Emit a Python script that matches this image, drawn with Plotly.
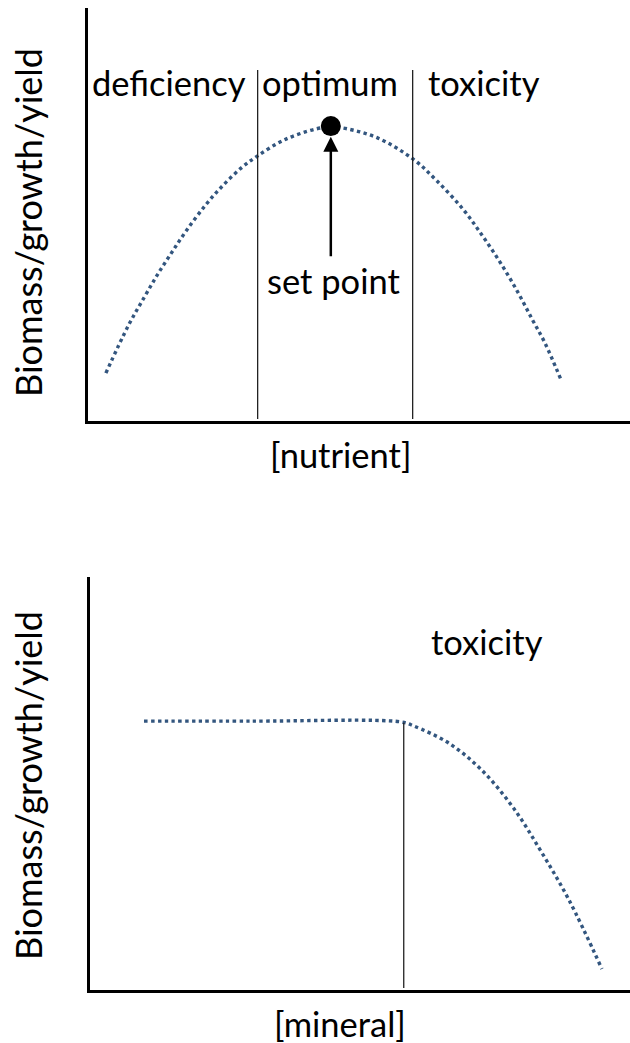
import plotly.graph_objects as go

# ---------- data (arbitrary units) ----------
nutrient_x = [0.33, 0.74, 1.04, 1.28, 1.54, 1.81, 2.17, 2.48, 2.83, 3.13, 3.61, 4.20,
              4.50, 4.80, 5.35, 6.00, 6.44, 6.93, 7.28, 7.61, 7.93, 8.20, 8.43, 8.72]
nutrient_y = [1.16, 2.30, 3.00, 3.54, 4.07, 4.60, 5.23, 5.69, 6.13, 6.42, 6.80, 7.07,
              7.12, 7.07, 6.85, 6.34, 5.81, 5.11, 4.48, 3.83, 3.12, 2.45, 1.89, 1.02]
zone_bounds = [3.13, 5.99]          # deficiency | optimum | toxicity
zone_top = 8.5
set_point = (4.48, 7.14)
zone_labels = ["deficiency", "optimum", "toxicity"]
zone_label_x = [1.50, 4.47, 7.30]

mineral_x = [1.00, 3.00, 5.76, 6.00, 6.64, 7.25, 7.84, 8.36, 8.87, 9.48]
mineral_y = [6.51, 6.51, 6.49, 6.39, 5.98, 5.33, 4.41, 3.34, 2.18, 0.51]
mineral_bound = 5.81
mineral_bound_top = 6.47

y_title = "Biomass/growth/yield"
x_titles = ["[nutrient]", "[mineral]"]

# ---------- figure ----------
W, H = 630, 1043
FONT = "Lato"
FS = 34.5
dot_color = "#33567f"

fig = go.Figure()

# top panel curve
fig.add_trace(go.Scatter(x=nutrient_x, y=nutrient_y, mode="lines",
                         line=dict(shape="spline", dash="dot", width=3.4, color=dot_color),
                         xaxis="x", yaxis="y", hoverinfo="skip"))
# zone boundaries
for b in zone_bounds:
    fig.add_trace(go.Scatter(x=[b, b], y=[0.05, zone_top], mode="lines",
                             line=dict(color="#222222", width=1.3),
                             xaxis="x", yaxis="y", hoverinfo="skip"))
# set point
fig.add_trace(go.Scatter(x=[set_point[0]], y=[set_point[1]], mode="markers",
                         marker=dict(size=20, color="black"),
                         xaxis="x", yaxis="y", hoverinfo="skip"))

# bottom panel curve
fig.add_trace(go.Scatter(x=mineral_x, y=mineral_y, mode="lines",
                         line=dict(shape="spline", dash="dot", width=3.4, color=dot_color),
                         xaxis="x2", yaxis="y2", hoverinfo="skip"))
fig.add_trace(go.Scatter(x=[mineral_bound, mineral_bound], y=[0.05, mineral_bound_top],
                         mode="lines", line=dict(color="#222222", width=1.3),
                         xaxis="x2", yaxis="y2", hoverinfo="skip"))

ax_common = dict(range=[0, 10], showline=True, linecolor="black", linewidth=2.5,
                 showgrid=False, zeroline=False, showticklabels=False, ticks="",
                 fixedrange=True)

ann = []
font = dict(family=FONT, size=FS, color="black")
# zone labels (top)
for lbl, lx in zip(zone_labels, zone_label_x):
    ann.append(dict(x=lx, y=8.2, xref="x", yref="y", text=lbl, showarrow=False,
                    font=font, xanchor="center", yanchor="middle"))
# set point arrow + label
ann.append(dict(x=set_point[0], y=6.88, ax=set_point[0], ay=3.95, xref="x", yref="y",
                axref="x", ayref="y", text="", showarrow=True, arrowhead=2,
                arrowsize=1.2, arrowwidth=2.5, arrowcolor="black"))
ann.append(dict(x=set_point[0] + 0.05, y=3.4, xref="x", yref="y", text="set point",
                showarrow=False, font=font, xanchor="center", yanchor="middle"))
# bottom toxicity
ann.append(dict(x=7.36, y=8.45, xref="x2", yref="y2", text="toxicity", showarrow=False,
                font=font, xanchor="center", yanchor="middle"))
# axis titles
ann.append(dict(x=340 / W, y=1 - 455 / H, xref="paper", yref="paper", text=x_titles[0],
                showarrow=False, font=font, xanchor="center", yanchor="middle"))
ann.append(dict(x=340 / W, y=1 - 1023 / H, xref="paper", yref="paper", text=x_titles[1],
                showarrow=False, font=font, xanchor="center", yanchor="middle"))
for cy in (223, 786):
    ann.append(dict(x=28 / W, y=1 - cy / H, xref="paper", yref="paper", text=y_title,
                    textangle=-90, showarrow=False,
                    font=dict(family=FONT, size=36, color="black"),
                    xanchor="center", yanchor="middle"))

fig.update_layout(
    width=W, height=H, autosize=False,
    margin=dict(l=0, r=0, t=0, b=0),
    paper_bgcolor="white", plot_bgcolor="white",
    showlegend=False,
    xaxis=dict(domain=[88 / W, 1], anchor="y", **ax_common),
    yaxis=dict(domain=[(H - 421) / H, (H - 8) / H], anchor="x", **ax_common),
    xaxis2=dict(domain=[90 / W, 1], anchor="y2", **ax_common),
    yaxis2=dict(domain=[(H - 990) / H, (H - 577) / H], anchor="x2", **ax_common),
    annotations=ann,
)

fig.write_html("out.html", config={"displayModeBar": False},
               post_script="document.body.style.margin='0';document.body.style.overflow='hidden';")
